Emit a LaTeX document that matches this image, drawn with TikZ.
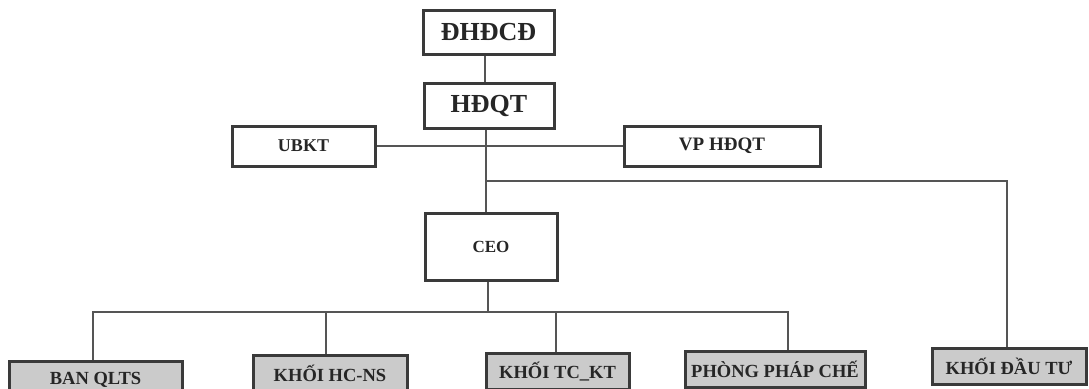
\documentclass[tikz,border=0pt]{standalone}
\usepackage{fontspec}
\setmainfont{Liberation Serif}
\definecolor{boxline}{HTML}{3A3A3A}
\definecolor{connline}{HTML}{555555}
\definecolor{boxgray}{HTML}{CBCBCB}
\definecolor{txt}{HTML}{262626}
\tikzset{
  topbox/.style={draw=boxline, line width=3pt, fill=white, inner sep=0pt, text=txt, font=\bfseries\fontsize{18}{18}\selectfont},
  bigbox/.style={topbox, font=\bfseries\fontsize{26}{26}\selectfont},
  unitbox/.style={draw=boxline, line width=3pt, fill=boxgray, inner sep=0pt, text=txt, font=\bfseries\fontsize{18.5}{18.5}\selectfont, anchor=north, minimum height=36pt},
  conn/.style={draw=connline, line width=2pt}
}
\begin{document}
\begin{tikzpicture}[x=1pt,y=-1pt]
\clip (0,0) rectangle (1089,388);
\fill[white] (0,0) rectangle (1089,388);
% nodes
\node[bigbox, minimum width=131pt, minimum height=44pt] (dhdcd) at (488.5,32) {ĐHĐCĐ};
\node[bigbox, minimum width=130pt, minimum height=45pt] (hdqt) at (489,105.5) {HĐQT};
\node[topbox, minimum width=143pt, minimum height=40pt] (ubkt) at (303.5,146) {UBKT};
\node[topbox, font=\bfseries\fontsize{19}{19}\selectfont, minimum width=196pt, minimum height=40pt] (vp) at (722,146) {VP HĐQT};
\node[topbox, font=\bfseries\fontsize{17}{17}\selectfont, minimum width=132pt, minimum height=67pt] (ceo) at (491,246.5) {CEO};
\node[unitbox, minimum width=173pt] (ban) at (95.5,360) {BAN QLTS};
\node[unitbox, minimum width=154pt] (hcns) at (330,354) {KHỐI HC-NS};
\node[unitbox, minimum width=143pt] (tckt) at (557.5,352) {KHỐI TC\_KT};
\node[unitbox, minimum width=180pt] (phong) at (775,350) {PHÒNG PHÁP CHẾ};
\node[unitbox, minimum width=154pt] (dautu) at (1009,347) {KHỐI ĐẦU TƯ};
% junction coordinates
\coordinate (jdt) at (487,181);
\coordinate (bus) at (488,312);
% connectors
\draw[conn] (dhdcd.south -| 485,0) -- (hdqt.north -| 485,0);
\draw[conn] (ubkt.east) -- (vp.west);
\draw[conn] (hdqt.south -| 486,0) -- (ceo.north -| 486,0);
\draw[conn] (jdt) -| ([xshift=-2pt]dautu.north);
\draw[conn] (ceo.south -| bus) -- (bus);
\draw[conn] ([xshift=-2.5pt]ban.north) |- (bus) -| ([xshift=13pt]phong.north);
\draw[conn] ([xshift=-4pt]hcns.north) -- ([xshift=-4pt]hcns.north |- bus);
\draw[conn] ([xshift=-1.5pt]tckt.north) -- ([xshift=-1.5pt]tckt.north |- bus);
\end{tikzpicture}
\end{document}
